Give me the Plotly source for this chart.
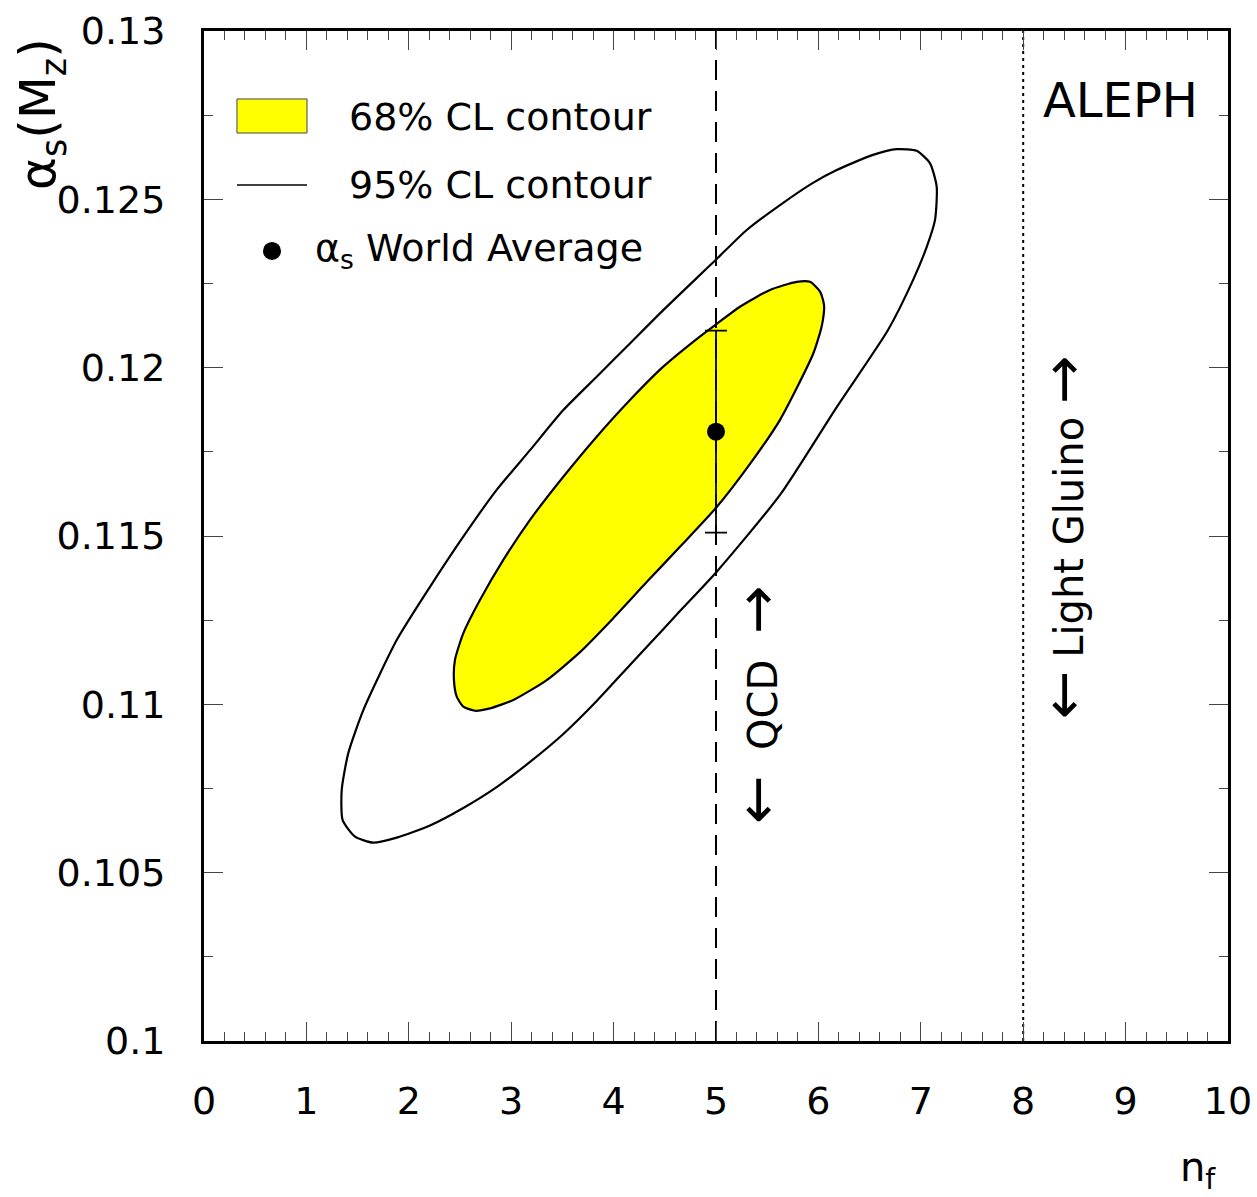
import plotly.graph_objects as go

# ---- data ----
# 95% CL contour (n_f, alpha_s)
cl95_nf = [6.765, 6.960, 7.090, 7.155, 7.139, 7.058, 6.924, 6.680, 6.179, 5.625,
           5.007, 4.648, 4.323, 4.160, 3.835, 3.509, 3.184, 2.858, 2.532, 2.207,
           1.882, 1.653, 1.475, 1.354, 1.345, 1.409, 1.556, 1.882, 2.207, 2.532,
           2.858, 3.184, 3.509, 3.835, 4.160, 4.485, 4.811, 5.007, 5.300, 5.625,
           5.947, 6.179, 6.533, 6.765]
cl95_as = [0.12649, 0.12644, 0.12607, 0.12538, 0.12439, 0.12359, 0.12260, 0.12112, 0.11883, 0.11622,
           0.11394, 0.11277, 0.11170, 0.11117, 0.11010, 0.10912, 0.10829, 0.10754, 0.10692, 0.10640,
           0.10604, 0.10589, 0.10607, 0.10656, 0.10746, 0.10855, 0.10983, 0.11191, 0.11349, 0.11498,
           0.11637, 0.11755, 0.11874, 0.11973, 0.12072, 0.12171, 0.12266, 0.12323, 0.12409, 0.12483,
           0.12549, 0.12587, 0.12632, 0.12649]

# 68% CL contour (n_f, alpha_s)
cl68_nf = [5.788, 5.918, 6.016, 6.055, 6.035, 5.950, 5.625, 5.332, 5.007, 4.648,
           4.323, 3.997, 3.672, 3.347, 3.021, 2.793, 2.646, 2.532, 2.468, 2.441,
           2.451, 2.532, 2.695, 2.923, 3.184, 3.509, 3.835, 4.160, 4.485, 4.811,
           5.007, 5.234, 5.527, 5.788]
cl68_as = [0.12255, 0.12255, 0.12226, 0.12186, 0.12127, 0.12042, 0.11845, 0.11714, 0.11586, 0.11468,
           0.11363, 0.11256, 0.11155, 0.11072, 0.11013, 0.10988, 0.10981, 0.10993, 0.11023, 0.11072,
           0.11132, 0.11211, 0.11310, 0.11429, 0.11548, 0.11676, 0.11795, 0.11904, 0.12003, 0.12085,
           0.12130, 0.12181, 0.12231, 0.12255]

# world average
wa_nf = [5]
wa_as = [0.1181]
wa_err = [0.0030]

# reference lines
qcd_nf = 5
gluino_nf = 8

x_range = [0, 10]
y_range = [0.1, 0.13]

FONT = "DejaVu Sans"

fig = go.Figure()

fig.add_trace(go.Scatter(x=cl68_nf, y=cl68_as, mode="lines", fill="toself",
                         fillcolor="#ffff00", line=dict(color="black", width=2.2, shape="spline", smoothing=0.6),
                         hoverinfo="skip", showlegend=False))
fig.add_trace(go.Scatter(x=cl95_nf, y=cl95_as, mode="lines",
                         line=dict(color="black", width=2.2, shape="spline", smoothing=0.6),
                         hoverinfo="skip", showlegend=False))
fig.add_trace(go.Scatter(x=[qcd_nf, qcd_nf], y=y_range, mode="lines",
                         line=dict(color="black", width=2, dash="20px,11px"),
                         hoverinfo="skip", showlegend=False))
fig.add_trace(go.Scatter(x=[gluino_nf, gluino_nf], y=y_range, mode="lines",
                         line=dict(color="black", width=2, dash="3px,4px"),
                         hoverinfo="skip", showlegend=False))
fig.add_trace(go.Scatter(x=wa_nf, y=wa_as, mode="markers",
                         marker=dict(color="black", size=18),
                         error_y=dict(type="data", array=wa_err, color="black",
                                      thickness=1.8, width=11),
                         hoverinfo="skip", showlegend=False))

# ---- manual legend (paper coords) ----
fig.add_shape(type="rect", xref="paper", yref="paper",
              x0=0.0322, x1=0.1006, y0=0.899, y1=0.9327,
              fillcolor="#ffff00", line=dict(color="#444444", width=1))
fig.add_shape(type="line", xref="paper", yref="paper",
              x0=0.0322, x1=0.1006, y0=0.8475, y1=0.8475,
              line=dict(color="black", width=1.5))
fig.add_shape(type="circle", xref="paper", yref="paper",
              x0=0.0664 - 0.0088, x1=0.0664 + 0.0088, y0=0.7822 - 0.0089, y1=0.7822 + 0.0089,
              fillcolor="black", line=dict(color="black", width=0))

legend_texts = ["68% CL contour", "95% CL contour", "α<sub>s</sub> World Average"]
legend_x = [0.1396, 0.1396, 0.1064]
legend_y = [0.9149, 0.8475, 0.7822]
for t, lx, ly in zip(legend_texts, legend_x, legend_y):
    fig.add_annotation(text=t, xref="paper", yref="paper", x=lx, y=ly,
                       xanchor="left", yanchor="middle", showarrow=False,
                       font=dict(family=FONT, size=38, color="black"))

fig.add_annotation(text="ALEPH", xref="paper", yref="paper", x=0.9727, y=0.9317,
                   xanchor="right", yanchor="middle", showarrow=False,
                   font=dict(family=FONT, size=48, color="black"))

ARROW_L = '<span style="font-size:58px">←</span>'
ARROW_R = '<span style="font-size:58px">→</span>'
fig.add_annotation(text=ARROW_L + "  QCD  " + ARROW_R, xref="paper", yref="paper", x=0.540, y=0.3327,
                   xanchor="center", yanchor="middle", textangle=-90, showarrow=False,
                   font=dict(family=FONT, size=40, color="black"))
fig.add_annotation(text=ARROW_L + " Light Gluino " + ARROW_R, xref="paper", yref="paper", x=0.839, y=0.499,
                   xanchor="center", yanchor="middle", textangle=-90, showarrow=False,
                   font=dict(family=FONT, size=40, color="black"))

# axis titles
fig.add_annotation(text="α<sub>s</sub>(M<sub>z</sub>)", xref="paper", yref="paper",
                   x=-0.158, y=0.918, xanchor="center", yanchor="middle", textangle=-90,
                   showarrow=False, font=dict(family=FONT, size=50, color="black"))
fig.add_annotation(text="n<sub>f</sub>", xref="paper", yref="paper",
                   x=0.99, y=-0.128, xanchor="right", yanchor="middle",
                   showarrow=False, font=dict(family=FONT, size=40, color="black"))

axis_common = dict(showgrid=False, zeroline=False, showline=True, linecolor="black",
                   linewidth=3, mirror="allticks", ticks="inside", ticklen=19,
                   tickwidth=1, tickcolor="#444444", automargin=False,
                   tickfont=dict(family=FONT, size=38, color="black"))

fig.update_xaxes(range=x_range, tick0=0, dtick=1, ticklabelstandoff=24,
                 minor=dict(dtick=0.2, ticks="inside", ticklen=9, tickwidth=1, tickcolor="#444444"),
                 **axis_common)
fig.update_yaxes(range=y_range, tick0=0.1, dtick=0.005, ticklabelstandoff=28,
                 minor=dict(dtick=0.0025, ticks="inside", ticklen=9, tickwidth=1, tickcolor="#444444"),
                 **axis_common)

fig.update_layout(width=1257, height=1197, autosize=False,
                  margin=dict(l=204, r=29, t=31, b=156),
                  plot_bgcolor="white", paper_bgcolor="white", showlegend=False,
                  hovermode=False)

fig.write_html("out.html", config={"displayModeBar": False, "staticPlot": True},
               post_script="document.body.style.margin='0px';document.body.style.padding='0px';")
